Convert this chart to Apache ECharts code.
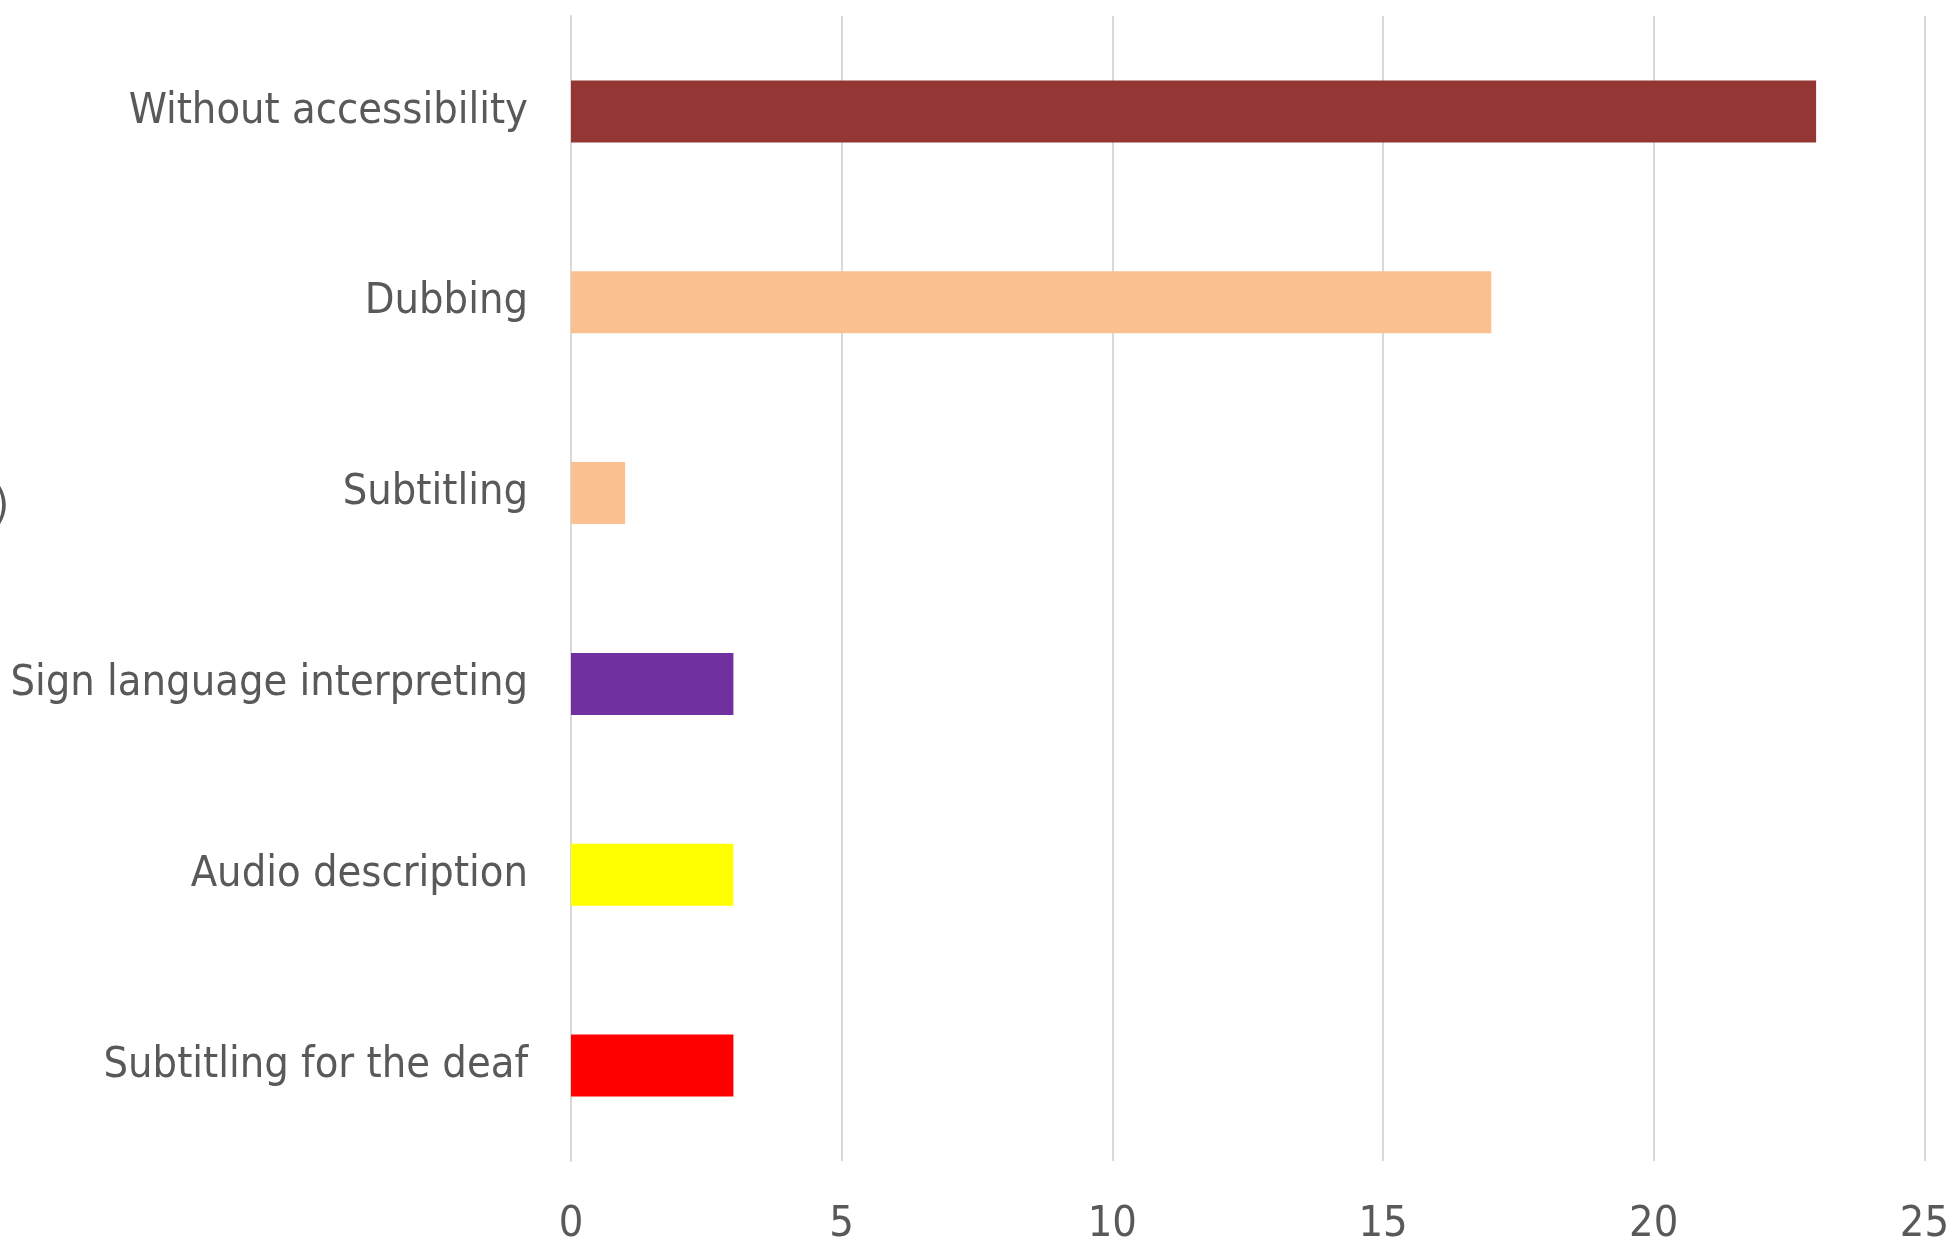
<!DOCTYPE html>
<html>
<head>
<meta charset="utf-8">
<script src="https://cdn.jsdelivr.net/npm/echarts@6/dist/echarts.min.js"></script>
<style>
  html, body { margin: 0; padding: 0; background: #ffffff; }
  #chart { width: 1952px; height: 1246px; }
</style>
</head>
<body>
<div id="chart"></div>
<script>
// categories, top to bottom
const categories = [
  'Without accessibility',
  'Dubbing',
  'Subtitling',
  'Sign language interpreting',
  'Audio description',
  'Subtitling for the deaf'
];
const values = [23, 17, 1, 3, 3, 3];
const xTicks = { min: 0, max: 25, interval: 5 };

// bar colours, same order as categories
const barColors = ['#943634', '#FAC090', '#FAC090', '#7030A0', '#FFFF00', '#FF0000'];

const textColor = '#595959';
const gridColor = '#D9D9D9';
const font = '"Liberation Sans Narrow", "DejaVu Sans Condensed", sans-serif';

const chart = echarts.init(document.getElementById('chart'));

chart.setOption({
  backgroundColor: '#ffffff',
  animation: false,
  grid: {
    left: 571,
    right: 26,
    top: 16,
    bottom: 78,
    containLabel: false
  },
  graphic: [
    {
      // clipped axis title remnant on the left edge
      type: 'text',
      left: -6,
      top: 486,
      style: {
        text: ')',
        fontSize: 43,
        fontFamily: font,
        fill: textColor
      }
    }
  ],
  xAxis: {
    type: 'value',
    min: xTicks.min,
    max: xTicks.max,
    interval: xTicks.interval,
    axisLine: { show: false },
    axisTick: { show: false },
    axisLabel: {
      color: textColor,
      fontSize: 43,
      fontFamily: font,
      margin: 42
    },
    splitLine: {
      show: true,
      lineStyle: { color: gridColor, width: 2 }
    }
  },
  yAxis: {
    type: 'category',
    inverse: true,
    data: categories,
    axisLine: { show: true, lineStyle: { color: gridColor, width: 2 } },
    axisTick: { show: false },
    axisLabel: {
      color: textColor,
      fontSize: 43,
      fontFamily: font,
      margin: 43
    }
  },
  series: [
    {
      type: 'bar',
      barWidth: 62,
      data: values.map((v, i) => ({
        value: v,
        itemStyle: { color: barColors[i] }
      }))
    }
  ]
});
</script>
</body>
</html>
